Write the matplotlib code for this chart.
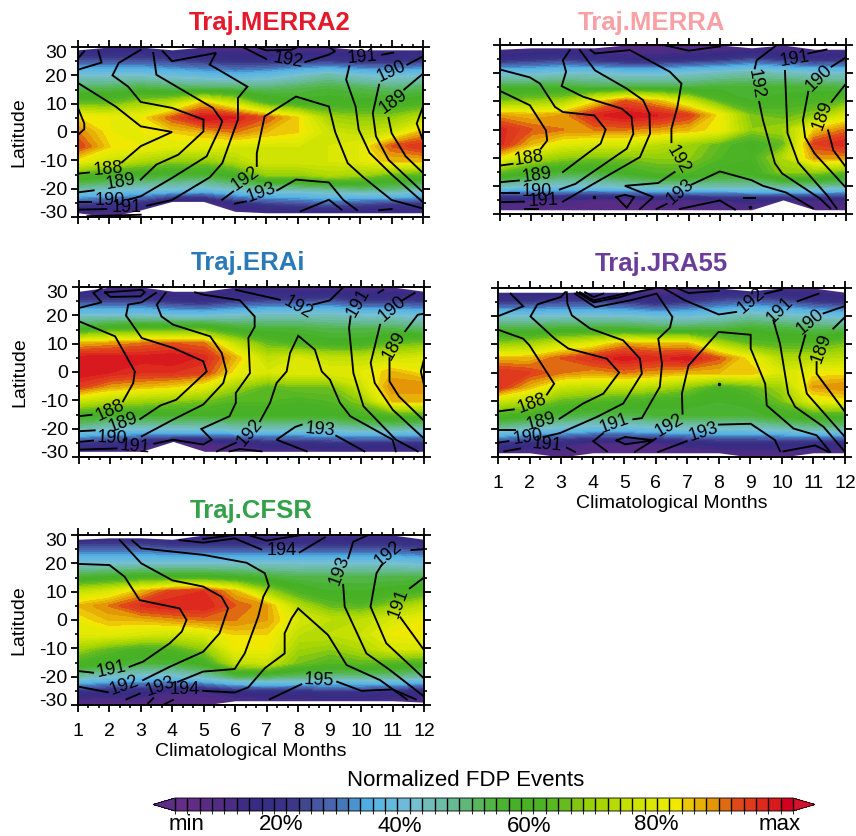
import matplotlib
matplotlib.use('Agg')
import matplotlib.pyplot as plt
import numpy as np
from matplotlib.colors import ListedColormap, BoundaryNorm
from matplotlib.cm import ScalarMappable
from matplotlib.transforms import ScaledTranslation

plt.rcParams['font.family'] = ['Liberation Sans', 'DejaVu Sans']
plt.rcParams['axes.unicode_minus'] = False

months = np.arange(1, 13)
lats = np.array([30, 25, 20, 15, 10, 5, 0, -5, -10, -15, -20, -25, -30])

level_colors = ['#642d87', '#622c85', '#5a2b84', '#512c84', '#4a2c84', '#3e2b84', '#382b84', '#372e85', '#3a3187', '#3d3789',
                '#3f478f', '#4658a5', '#4865ae', '#4678b9', '#4a93d0', '#4fade2', '#5cb6e2', '#64b8dc', '#6dbbd8', '#74c0d0',
                '#71bdb9', '#6cbca8', '#66bb94', '#5fb878', '#58b75c', '#50b544', '#4ab332', '#46b126', '#48b224', '#4bb325',
                '#58b822', '#66bc1e', '#80c612', '#98d00a', '#a8d504', '#b6da04', '#c4e002', '#d0e404', '#dce804', '#e4ea04',
                '#f0e800', '#eec808', '#e6b006', '#e49606', '#e06a12', '#e0481a', '#e03a1e', '#de2a1e', '#d81a1e', '#d4001f']
under_color = '#5e2d86'
over_color = '#d5112c'
levels = np.arange(0, 102, 2)

# normalized FDP events, rows follow lats, columns follow months
merra2_fdp = [[8, 8, 10, 8, 6, 6, 6, 6, 6, 6, 8, 8],
              [22, 22, 22, 20, 18, 16, 16, 18, 18, 16, 16, 18],
              [38, 38, 38, 36, 34, 32, 34, 38, 42, 38, 36, 38],
              [50, 50, 52, 50, 50, 50, 48, 50, 52, 50, 48, 50],
              [62, 62, 68, 72, 84, 74, 60, 56, 56, 56, 56, 58],
              [82, 80, 80, 90, 98, 96, 90, 82, 68, 66, 66, 72],
              [88, 80, 80, 82, 84, 88, 84, 82, 74, 72, 74, 84],
              [92, 82, 80, 78, 78, 76, 76, 76, 76, 78, 90, 94],
              [80, 74, 70, 66, 66, 70, 76, 76, 76, 78, 84, 84],
              [60, 56, 54, 52, 52, 56, 66, 66, 70, 68, 62, 60],
              [42, 40, 38, 38, 36, 40, 42, 42, 44, 46, 46, 42],
              [20, 18, 16, 4, 4, 14, 20, 22, 24, 22, 20, 18],
              [4, 4, 4, 4, 4, 4, 4, 4, 4, 4, 4, 4]]
merra_fdp = [[6, 6, 6, 6, 4, 4, 4, 4, 4, 6, 4, 4],
             [14, 16, 18, 14, 12, 12, 14, 16, 20, 16, 14, 16],
             [36, 36, 38, 38, 36, 36, 38, 40, 42, 40, 38, 38],
             [52, 52, 52, 50, 50, 50, 50, 52, 52, 52, 52, 50],
             [64, 66, 68, 80, 90, 84, 74, 60, 54, 56, 58, 62],
             [86, 84, 86, 95, 98, 96, 92, 80, 64, 62, 66, 76],
             [95, 90, 88, 88, 88, 86, 84, 80, 66, 68, 82, 88],
             [95, 84, 78, 76, 76, 72, 68, 62, 56, 62, 92, 96],
             [80, 70, 66, 64, 64, 66, 66, 60, 58, 70, 86, 86],
             [62, 56, 52, 52, 56, 60, 60, 56, 56, 66, 66, 62],
             [40, 38, 38, 38, 40, 42, 42, 42, 42, 44, 44, 42],
             [10, 8, 8, 6, 6, 8, 8, 10, 12, 10, 10, 10],
             [4, 4, 4, 4, 4, 4, 4, 4, 4, 4, 4, 4]]
erai_fdp = [[8, 6, 6, 6, 8, 8, 8, 6, 6, 6, 6, 6],
            [20, 20, 20, 16, 14, 18, 20, 20, 22, 18, 18, 18],
            [38, 38, 38, 36, 36, 38, 40, 40, 40, 38, 38, 36],
            [54, 58, 60, 60, 60, 54, 52, 52, 50, 50, 50, 48],
            [84, 86, 88, 90, 88, 72, 62, 58, 56, 56, 62, 64],
            [97, 97, 97, 98, 95, 84, 72, 76, 72, 72, 74, 76],
            [98, 96, 94, 94, 92, 80, 76, 78, 78, 78, 84, 80],
            [92, 86, 84, 82, 78, 68, 62, 64, 64, 74, 88, 88],
            [74, 70, 68, 66, 64, 60, 60, 58, 60, 66, 84, 84],
            [56, 54, 54, 54, 54, 54, 54, 54, 54, 58, 60, 60],
            [42, 38, 38, 38, 38, 40, 40, 40, 40, 42, 42, 40],
            [18, 16, 12, 8, 8, 10, 14, 14, 16, 16, 16, 16],
            [4, 4, 4, 4, 4, 4, 4, 4, 4, 4, 4, 4]]
jra55_fdp = [[6, 6, 6, 6, 8, 4, 6, 8, 8, 6, 6, 4],
             [18, 18, 20, 20, 18, 14, 18, 22, 24, 22, 18, 16],
             [38, 38, 38, 38, 38, 36, 36, 38, 42, 40, 38, 36],
             [52, 52, 54, 54, 54, 52, 52, 52, 54, 52, 50, 50],
             [66, 68, 74, 78, 86, 84, 84, 70, 62, 60, 60, 64],
             [84, 84, 90, 94, 97, 95, 97, 90, 80, 70, 70, 72],
             [94, 92, 88, 86, 88, 86, 84, 84, 84, 76, 80, 80],
             [94, 84, 74, 72, 72, 70, 66, 58, 62, 68, 86, 88],
             [74, 70, 62, 60, 58, 56, 56, 54, 56, 64, 78, 80],
             [58, 56, 52, 50, 50, 52, 52, 52, 52, 56, 58, 58],
             [42, 38, 36, 34, 34, 36, 38, 38, 38, 40, 42, 42],
             [18, 14, 12, 8, 8, 8, 12, 14, 14, 14, 14, 14],
             [4, 4, 4, 4, 4, 4, 4, 4, 4, 4, 4, 4]]
cfsr_fdp = [[10, 10, 10, 8, 6, 6, 6, 6, 6, 8, 8, 6],
            [24, 24, 24, 22, 22, 22, 22, 22, 22, 22, 22, 20],
            [38, 38, 38, 38, 38, 38, 38, 38, 38, 38, 38, 36],
            [52, 54, 56, 56, 56, 54, 52, 50, 50, 50, 50, 50],
            [72, 76, 84, 92, 94, 84, 68, 58, 54, 54, 56, 58],
            [84, 88, 94, 96, 96, 90, 86, 70, 62, 60, 66, 72],
            [80, 84, 84, 86, 88, 88, 86, 76, 72, 72, 76, 80],
            [78, 78, 76, 74, 76, 82, 82, 72, 72, 74, 80, 82],
            [68, 62, 58, 60, 66, 80, 80, 68, 66, 70, 76, 76],
            [58, 54, 52, 52, 56, 72, 74, 64, 60, 62, 60, 58],
            [42, 38, 36, 36, 40, 48, 48, 46, 44, 44, 44, 42],
            [16, 14, 14, 10, 10, 14, 16, 16, 18, 18, 16, 14],
            [4, 4, 4, 4, 4, 4, 4, 4, 4, 4, 4, 4]]

# where the data stops, per month
merra2_top = [29, 30, 30, 29, 30, 30, 30, 30, 30, 29, 29, 29]
merra2_bot = [-28.5, -30, -27.5, -24.5, -24.5, -28, -28.5, -28.5, -28.5, -28.5, -28.5, -28.5]
merra_top = [28.5, 29, 29, 29, 30, 30, 30, 30, 29, 30, 28.5, 28.5]
merra_bot = [-28.5, -28.5, -28.5, -28.5, -28.5, -28.5, -28.5, -28.5, -28.5, -25, -28.5, -28.5]
erai_top = [28.5, 30, 30, 28.5, 28.5, 30, 30, 30, 30, 30, 30, 28.5]
erai_bot = [-28, -28, -28, -24.5, -28, -28, -28, -28, -28, -28, -28, -28]
jra55_top = [28.5, 28.5, 28.5, 28.5, 28.5, 30, 30, 30, 29, 30, 30, 28.5]
jra55_bot = [-28.5, -28.5, -30, -28.5, -28.5, -28.5, -28.5, -28.5, -30, -30, -28.5, -28.5]
cfsr_top = [28.5, 29, 29, 28.5, 30, 30, 30, 30, 30, 30, 30, 28.5]
cfsr_bot = [-30, -30, -30, -30, -30, -28.5, -28.5, -28.5, -28.5, -28.5, -28.5, -29]

# cold point isolines as (month, latitude), broken where their labels sit
merra2_lines = [
    [(1, 8.5), (1.2, 3), (1.2, 1), (1, -1)],
    [(12, 9), (11.8, 3), (12, -3)],
    [(1, -14.7), (1.35, -14.3)],
    [(2.4, -10.7), (3, -5), (4, 0), (3, 2), (2.2, 9), (1, 17.3)],
    [(1, -21.3), (1.5, -20.6)],
    [(3, -16.8), (3.5, -11.5), (4.2, -8), (5, 0.2), (5, 4.4), (4, 8.5), (3, 10.6), (2.6, 16), (2.1, 20), (2.3, 24.4), (3, 29)],
    [(1, -24.8), (1.4, -24.8)],
    [(2.6, -23.9), (3, -22.7), (4, -16.2), (5.1, -8.6), (5.5, 0.8), (5.6, 3.8), (5.3, 8.5), (3.5, 20.2), (3.4, 27.9)],
    [(1, -27.4), (1.9, -27.2)],
    [(1.3, -29.7), (3, -29.2)],
    [(3.2, -26), (4, -24), (5.2, -16), (5.6, -11), (6.1, 4.4), (6.1, 12), (6.4, 16), (5.2, 23.8), (5.4, 27.9), (4, 25), (3.7, 28.5)],
    [(1, 22), (1.75, 24.5), (1.65, 28.5)],
    [(1, 26), (1.2, 28.5)],
    [(6.25, 30), (7, 25.8)],
    [(6.7, 30), (7, 28.8), (7.8, 29), (8, 30)],
    [(8.25, 24.7), (9, 27.3), (9.2, 28.5), (9, 30)],
    [(5.6, -23.9), (5.95, -21)],
    [(6.7, -12), (6.7, -7.5), (6.95, 5.5), (7.95, 12.5), (9, 9), (9.2, 0), (9.6, -11), (10.1, -16), (11, -24), (12, -27)],
    [(6, -25.3), (6.35, -24.5)],
    [(7.35, -20.6), (7.95, -16.8), (9, -17.8), (9.45, -23.9), (9.9, -27.6)],
    [(8.1, -28), (9, -23.9), (9.4, -27.4)],
    [(10.6, -27.6), (11, -27.2)],
    [(10.7, 27.3), (11.05, 28)],
    [(9.65, 23.2), (9.55, 18.5), (9.85, 9), (9.95, 0.8), (10.3, -7.4), (11, -15), (12, -24.8)],
    [(11.5, 23.8), (12, 26.7)],
    [(10.6, 16.7), (10.4, 6.7), (10.5, -1.5), (10.9, -9.8), (12, -21.3)],
    [(11.4, 15), (12, 20.6)],
    [(10.9, 5), (11, -0.4), (11.45, -8.6), (12, -14.5)],
]
merra_lines = [
    [(1, -12.8), (1.4, -12.2)],
    [(2.3, -6.8), (2.5, -3.9), (2.46, -0.3), (1.95, 8.6), (1, 13.7)],
    [(1, -18.7), (1.6, -18.1)],
    [(3, -15.1), (4.2, -5), (4.36, 0), (4, 5), (3, 6.2), (2.75, 8), (2.27, 16.3), (1.95, 18.5), (1, 21.3)],
    [(1, -22.6), (1.6, -22.6)],
    [(2.9, -21.3), (3.4, -19.3), (5.03, -6.8), (5.24, -1.5), (5.18, 4.5), (4.87, 7.4), (3.65, 11.6), (2.96, 15.4), (3.1, 20.5), (3, 24.6), (3.22, 28.2)],
    [(1, -25.8), (1.76, -25.6)],
    [(3, -25.6), (3.97, -19.3), (5.45, -9.8), (5.77, -1.5), (5.75, 5.6), (5.55, 10.4), (5.03, 14.5), (4.02, 21), (3.54, 28.2)],
    [(1.8, -28.2), (2.2, -28.2)],
    [(6.45, -4.5), (6.45, 0.3), (6.64, 8), (6.77, 16.3), (6.4, 20.5), (5.13, 28.2), (4.02, 27), (3.88, 28.2)],
    [(6.55, -15.1), (6.03, -19), (4.97, -20), (5.87, -24), (5.45, -28.2)],
    [(7.1, -19.5), (7.99, -14.9), (9, -18), (9.36, -20), (10.1, -22.4), (10.95, -28)],
    [(5.98, -28.2), (6.3, -26.4)],
    [(6.72, -28.2), (7.99, -25.2), (8.47, -28.4)],
    [(4.7, -24), (4.97, -23.2), (5.26, -24), (5.03, -27.8), (4.7, -24)],
    [(8.75, -24.2), (9.15, -24.2), (8.75, -24.2)],
    [(4, -24)],
    [(8.95, -27.5)],
    [(9.8, 30), (9.16, 24.6), (9.1, 21.7)],
    [(9.24, 9.8), (9.36, 3.3), (9.74, -12), (9.97, -15.6), (11.17, -24.5), (11.5, -28)],
    [(10.06, 20.8), (10.14, -1.3), (10.48, -11.7), (11.4, -23.4), (11.7, -28)],
    [(10.8, 27), (11.38, 28.4)],
    [(11.54, 22.3), (12, 25.6)],
    [(10.8, 13.4), (10.63, 3.3), (10.7, -2.8), (11, -8.5), (11.96, -20.2)],
    [(11.54, 9.8), (12, 16.3)],
    [(11.43, -0.3), (11.6, -7.4), (12, -13.4)],
    [(6.2, 30), (7, 28), (8, 29.5)],
]
erai_lines = [
    [(1, -15.6), (1.4, -15.1)],
    [(2.4, -10.4), (2.73, -3.9), (2.78, 0.2), (2.15, 12.6), (1, 17.9)],
    [(1, -20.9), (1.5, -20.6)],
    [(2.95, -16.6), (3.6, -11.8), (4.1, -9.8), (5.07, 0.2), (4.96, 3.8), (4, 8.5), (3, 12), (2.5, 19.9), (2.57, 23.8), (3, 24.6), (3.45, 27.9)],
    [(1, -24.7), (1.45, -24.2)],
    [(3, -22.7), (4, -16.8), (4.96, -11.5), (5.6, -3.9), (5.7, 0.2), (5.55, 6.7), (5.18, 12.6), (4, 16.7), (3.63, 19.6), (3.48, 23.8), (3.76, 27.9)],
    [(1, -27.4), (2.2, -27)],
    [(3.4, -25.3), (4, -23.9), (4.96, -25.6), (5.23, -23.9), (4.9, -20.1), (5.8, -15.6), (6, -10.9), (6, -7.4), (6.45, -0.4), (6.4, 12), (6.6, 15.9), (6.6, 19.6), (6.13, 25.3), (4.96, 27.3), (4.7, 28.1)],
    [(1.83, 28.1), (3, 29), (3.1, 28.1), (2.95, 26.7), (2, 26.5), (1.83, 28.1)],
    [(1, 22.6), (1.72, 24.6), (1.46, 27.9), (1.78, 30)],
    [(6, 29), (7.4, 25.5)],
    [(8.47, 23.8), (9, 25.3), (9.43, 30)],
    [(5.4, -28), (6, -25)],
    [(6.77, -17.4), (7.09, -10.9), (7.3, -3.9), (7.62, 0.2), (7.73, 6.7), (7.99, 12.8), (8.52, 7.9), (8.74, 0.2), (9, -2.7), (9.32, -10.9), (9.65, -15.6), (11, -23.9), (11.1, -28)],
    [(5.8, -28), (6.13, -27.2), (6.82, -28)],
    [(8.26, -28), (7.3, -23.9), (7.89, -19.4), (8.1, -18.6)],
    [(9.2, -22.5), (10.1, -28)],
    [(9.66, 19.6), (9.61, 15.5), (9.75, -0.4), (10.07, -12.1), (11.1, -23.9), (11.8, -28)],
    [(10.55, 28), (10.7, 29)],
    [(11.3, 25.2), (11.7, 27.9)],
    [(10.6, 16.7), (10.3, 3.2), (10.43, -3.9), (11, -13.3), (12, -23.5)],
    [(11.4, 14.4), (11.8, 20.2), (12, 20.6)],
    [(10.9, 4.9), (10.9, -3.3), (11.2, -8.6), (12, -17.2)],
    [(12, 4.4), (11.9, 0.2), (12, -4.5)],
]
jra55_lines = [
    [(1, -13.8), (1.5, -13.1)],
    [(2.55, -7.8), (2.78, -4), (2, 9.6), (1.8, 12), (1, 15.2)],
    [(1, -20.5), (1.54, -20.5)],
    [(2.95, -16.4), (3.7, -11), (4.34, -7.5), (4.84, 0), (4.45, 4.9), (3.23, 8.5), (2.8, 12), (2.03, 19.9), (2.25, 24.2), (2.99, 26.8), (3.13, 28.5)],
    [(1, -24.9), (1.33, -24.4)],
    [(2.44, -22.9), (2.97, -21.5), (4.13, -15.8), (4.97, -11), (5.56, -0.4), (5.5, 4.9), (4.97, 11.4), (3.92, 15.6), (3.34, 20.3), (3.2, 24.4), (3.18, 28.5)],
    [(1.2, -28), (1.7, -27)],
    [(3.18, -26.7), (3.44, -28.2)],
    [(4.45, -28), (4.02, -24.4), (4.32, -21.7)],
    [(5.29, -16.6), (5.56, -16.2), (6.13, -5.1), (6.2, 3.1), (6.08, 12), (6.45, 15.9), (6.53, 19.7), (6.03, 28), (5.19, 25.6), (4.08, 23.2), (3.44, 28)],
    [(3.5, 28.5), (4.03, 24.9), (4.87, 26.8), (5.4, 28.6), (5.93, 29.8)],
    [(3.6, 28.5), (4.03, 25.6), (5.1, 28.2)],
    [(3.76, 28.5), (4.03, 26.8), (4.34, 28)],
    [(1, 20), (1.8, 23.5), (1.4, 28)],
    [(6.24, 30), (6.93, 25.6), (8, 20.6), (8.55, 21.5)],
    [(9.47, 28), (10, 29.4)],
    [(6.67, 30), (7.04, 28.2), (8, 29)],
    [(4.76, -24.1), (5.03, -22.9), (5.93, -24.1), (5.03, -25.5), (4.76, -24.1)],
    [(5.34, -28.2), (6, -23.5)],
    [(6.85, -14.6), (6.83, -7.5), (7.04, 2.5), (7.99, 14.4), (9.01, 13.4), (9.01, 8.5), (9.47, -4), (9.52, -11.7), (10.37, -19.9), (11.1, -22.3), (11.53, -28.2)],
    [(6.08, -28.2), (6.98, -24.4)],
    [(8, -18.5), (9.01, -18.2), (9.78, -24), (9.94, -27.9)],
    [(10.05, -28), (11.05, -25.9), (11.48, -28.2)],
    [(8, -4)],
    [(9.73, 18.5), (9.94, 10.2), (10.2, -7.5), (10.42, -12.2), (11.32, -19.3), (12, -28.2)],
    [(10.5, 25.3), (11.16, 28)],
    [(11.32, 21), (12, 23.6)],
    [(10.74, 13.2), (10.55, 5.5), (10.79, -7.5), (12, -22.9)],
    [(11.63, 15.6), (12, 19.7)],
    [(11.1, 3.7), (11.1, -0.4), (12, -14)],
]
cfsr_lines = [
    [(1, -18), (1.48, -18.6)],
    [(2.64, -16.5), (3.07, -14.7), (3.92, -8.2), (4.3, -4.1), (4.45, 0), (4.23, 4.1), (2.96, 7), (2.48, 15.3), (2, 19.4), (1, 19.8)],
    [(1, -23.5), (1.95, -25.5)],
    [(3.07, -21.2), (3.92, -16.5), (4.98, -11.2), (5.5, -4.7), (5.77, 4.1), (5.56, 8.2), (4.98, 11.8), (4, 14), (3.01, 20), (2.33, 28.2)],
    [(2.54, -28), (2.96, -26)],
    [(4.18, -21.8), (4.98, -18.2), (5.98, -17.3), (6.3, -11.8), (6.73, 1.2), (6.89, 8.2), (7.07, 12), (6.94, 16.5), (6.36, 20.2), (4.98, 23), (3.01, 25.3), (2.73, 28)],
    [(3.23, -29.4), (3.39, -27.6)],
    [(3.7, -30), (4.02, -28.2)],
    [(4.98, -25), (5.98, -25.6), (6.41, -23.8), (6.94, -17), (7.57, -11.8), (7.57, -4.7), (7.79, 0.6), (8, 4.1), (8.95, -5.3), (9.54, -15.9), (10.6, -21.2), (11.45, -28)],
    [(4.23, 28.2), (4.98, 27.3), (5.98, 28.8), (6.83, 24.9)],
    [(8.05, 23.9), (8.85, 29.2)],
    [(4.98, 28.6), (5.98, 30)],
    [(6.41, 30), (7, 28), (8.1, 30)],
    [(7.09, -28), (8.1, -22.7)],
    [(9.24, -21.8), (10.01, -25), (11, -24.5), (11.74, -28)],
    [(9.59, 21.8), (9.75, 27.6), (10.22, 30)],
    [(9.43, 12.4), (9.48, 4.7), (10.17, -11.8), (10.91, -17.6), (12, -27)],
    [(11.6, 24.7), (12, 25)],
    [(10.65, 19.4), (10.49, 16.5), (10.3, 4.7), (10.8, -8.2), (12, -20.6)],
    [(11.55, 11.2), (12, 15)],
    [(11.25, 0.9), (12, -10.6)],
]

# isoline labels: text, month, latitude, rotation
merra2_labels = [('188', 1.96, -13, 5), ('189', 2.35, -17.8, 10), ('190', 2.0, -24.2, 0), ('191', 2.55, -26.5, 0), ('192', 6.35, -16.6, 35),
                 ('193', 6.85, -21.3, 20), ('192', 7.7, 25.3, -10), ('191', 10.05, 26.5, 5), ('190', 11, 21.4, 25), ('189', 11.05, 10.8, 35)]
merra_labels = [('188', 1.93, -10.4, 8), ('189', 2.17, -16.3, 8), ('190', 2.17, -21.9, 0), ('191', 2.38, -25.2, 3), ('192', 6.67, -10.8, -60),
                ('193', 6.74, -22.3, 40), ('192', 9.12, 16.3, -80), ('191', 10.37, 25.2, 10), ('190', 11.15, 18.1, 45), ('189', 11.27, 5, 70)]
erai_labels = [('188', 2, -13.5, 25), ('189', 2.4, -18, 20), ('190', 2.05, -23.5, -3), ('191', 2.8, -26.5, -5), ('192', 6.45, -21.3, 50),
               ('193', 8.7, -20.4, -5), ('192', 7.97, 22.6, -30), ('191', 9.9, 24.4, 60), ('190', 11, 22.2, 40), ('189', 11.05, 9.3, 60)]
jra55_labels = [('188', 2.07, -11, 20), ('189', 2.35, -17.6, 15), ('190', 1.94, -22.9, 8), ('191', 2.56, -25.8, -5), ('191', 4.7, -18.2, 20),
                ('192', 6.43, -18.8, 30), ('193', 7.51, -21, 18), ('192', 9.04, 25.6, 40), ('191', 9.94, 22, 45), ('190', 10.9, 17.9, 40), ('189', 11.27, 8.5, 70)]
cfsr_labels = [('191', 2.07, -17.6, 12), ('192', 2.48, -23, 20), ('193', 3.6, -23.5, 20), ('194', 4.39, -24.7, 0), ('194', 7.49, 24.7, 0),
               ('195', 8.67, -21.2, -3), ('193', 9.32, 17.6, 70), ('192', 10.86, 23.5, 40), ('191', 11.2, 5.9, 70)]

fig = plt.figure(figsize=(8.56, 8.36), dpi=100)
W, H = 856.0, 836.0


def panel(box, fdp, top, bot, lines, labels, title, color, title_xy, xlabels):
    x0, y0, x1, y1 = box
    ax = fig.add_axes([x0 / W, 1 - y1 / H, (x1 - x0) / W, (y1 - y0) / H])
    cs = ax.contourf(months, lats, np.array(fdp), levels=levels, cmap=cmap, norm=norm, extend='both')
    cs.set_edgecolor('face')
    ax.fill_between(months, top, 31, color='white', lw=0, zorder=2)
    ax.fill_between(months, -31, bot, color='white', lw=0, zorder=2)
    for seg in lines:
        xs = [p[0] for p in seg]
        ys = [p[1] for p in seg]
        if len(seg) == 1:
            ax.plot(xs, ys, 'k.', ms=3, zorder=3)
        else:
            ax.plot(xs, ys, 'k-', lw=1.35, zorder=3, solid_joinstyle='miter')
    for txt, m, la, rot in labels:
        ax.text(m, la, txt, fontsize=13, rotation=rot, ha='center', va='center', zorder=4, rotation_mode='anchor')
    ax.set_xlim(1, 12)
    ax.set_ylim(-30, 30)
    ax.set_xticks(months)
    ax.set_xticks(np.arange(1, 12.01, 1 / 3.0), minor=True)
    ax.set_yticks(np.arange(-30, 31, 10))
    ax.set_yticks(np.arange(-30, 31, 5), minor=True)
    ax.tick_params(which='major', direction='out', top=True, right=True, length=5, width=1.3, labelsize=14, pad=3)
    ax.tick_params(axis='x', which='major', pad=8)
    ax.tick_params(which='minor', direction='out', top=True, right=True, length=2.5, width=1.2)
    for s in ax.spines.values():
        s.set_linewidth(1.4)
    if xlabels:
        ax.set_xlabel('Climatological Months', fontsize=14, labelpad=2)
    else:
        ax.set_xticklabels([])
    if x0 < 200:
        ax.set_ylabel('Latitude', fontsize=14, labelpad=8)
        # the end labels sit a little inside the frame
        ylabs = ax.get_yticklabels()
        ylabs[0].set_transform(ylabs[0].get_transform() + ScaledTranslation(0, 5 / 100.0, fig.dpi_scale_trans))
        ylabs[-1].set_transform(ylabs[-1].get_transform() + ScaledTranslation(0, -5 / 100.0, fig.dpi_scale_trans))
    else:
        ax.set_yticklabels([])
    fig.text(title_xy[0] / W, 1 - title_xy[1] / H, title, color=color, fontsize=18.5, fontweight='bold', ha='center', va='center')


cmap = ListedColormap(level_colors)
cmap.set_under(under_color)
cmap.set_over(over_color)
norm = BoundaryNorm(levels, cmap.N)

panel((78, 47, 423, 217), merra2_fdp, merra2_top, merra2_bot, merra2_lines, merra2_labels, 'Traj.MERRA2', '#e41a2c', (270, 23), False)
panel((500, 45, 846, 214), merra_fdp, merra_top, merra_bot, merra_lines, merra_labels, 'Traj.MERRA', '#f8a0a4', (651, 23), False)
panel((79, 287, 424, 457), erai_fdp, erai_top, erai_bot, erai_lines, erai_labels, 'Traj.ERAi', '#2a7ab8', (248, 263), False)
panel((498, 288, 845, 457), jra55_fdp, jra55_top, jra55_bot, jra55_lines, jra55_labels, 'Traj.JRA55', '#6a3d9a', (661, 264), True)
panel((78, 535, 424, 705), cfsr_fdp, cfsr_top, cfsr_bot, cfsr_lines, cfsr_labels, 'Traj.CFSR', '#33a04a', (251, 511), True)

# colour bar, the triangles lie inside the axes box
cax = fig.add_axes([153 / W, 1 - 811 / H, 662 / W, 13 / H])
sm = ScalarMappable(norm=norm, cmap=cmap)
cb = fig.colorbar(sm, cax=cax, orientation='horizontal', extend='both', extendfrac=0.0357, drawedges=True, spacing='uniform', ticks=[])
cb.dividers.set_color('black')
cb.dividers.set_linewidth(1.0)
cb.outline.set_linewidth(0.6)

cbar_labels = ['min', '20%', '40%', '60%', '80%', 'max']
cbar_label_x = [186, 281, 400, 529, 656, 780]
cbar_label_y = [825, 825, 826, 826, 825, 825]
for t, lx, ly in zip(cbar_labels, cbar_label_x, cbar_label_y):
    fig.text(lx / W, 1 - ly / H, t, fontsize=16, ha='center', va='center')
fig.text(466 / W, 1 - 780 / H, 'Normalized FDP Events', fontsize=16, ha='center', va='center')

plt.savefig('out.png', dpi=100)
